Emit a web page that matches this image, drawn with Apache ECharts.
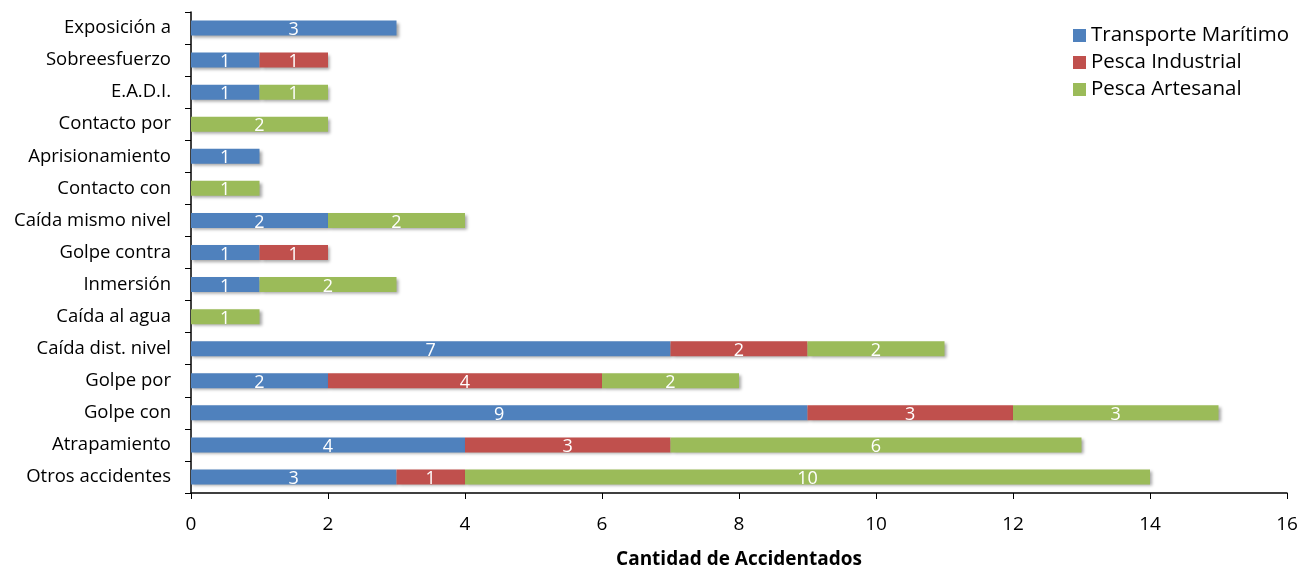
<!DOCTYPE html>
<html><head><meta charset="utf-8">
<script src="https://cdn.jsdelivr.net/npm/echarts@6/dist/echarts.min.js"></script>
<style>html,body{margin:0;padding:0;background:#fff}#c{width:1300px;height:571px}</style>
</head><body><div id="c"></div>
<script>
const categories = ["Otros accidentes","Atrapamiento","Golpe con","Golpe por","Caída dist. nivel","Caída al agua","Inmersión","Golpe contra","Caída mismo nivel","Contacto con","Aprisionamiento","Contacto por","E.A.D.I.","Sobreesfuerzo","Exposición a"];
const transporteMaritimo = [3,4,9,2,7,0,1,1,2,0,1,0,1,1,3];
const pescaIndustrial    = [1,3,3,4,2,0,0,1,0,0,0,0,0,1,0];
const pescaArtesanal     = [10,6,3,2,2,1,2,0,2,1,0,2,1,0,0];
const seriesNames = ["Transporte Marítimo","Pesca Industrial","Pesca Artesanal"];
const colors = ["#4F81BD","#C0504D","#9BBB59"];
const font = "'Open Sans', sans-serif";

const chart = echarts.init(document.getElementById('c'));
const mk = (name, data, color) => ({
  name, type: 'bar', stack: 'total', data, barWidth: 15,
  itemStyle: { color, shadowColor: 'rgba(0,0,0,0.35)', shadowBlur: 3, shadowOffsetX: 2, shadowOffsetY: 2 },
  label: { show: true, position: 'inside', color: '#fff', fontSize: 18, fontFamily: font, offset: [0, 2],
    formatter: p => p.value ? String(p.value) : '' }
});
chart.setOption({
  animation: false,
  grid: { left: 191, right: 13, top: 12, bottom: 78, containLabel: false, outerBoundsMode: 'none' },
  legend: {
    orient: 'vertical', left: 1068, top: 20, itemGap: 6, itemWidth: 13, itemHeight: 13,
    icon: 'rect', textStyle: { fontSize: 20.5, fontFamily: font, color: '#000' },
    data: seriesNames
  },
  xAxis: {
    type: 'value', min: 0, max: 16, interval: 2,
    name: 'Cantidad de Accidentados', nameLocation: 'middle', nameGap: 57,
    nameTextStyle: { fontSize: 19, fontWeight: 'bold', fontFamily: font, color: '#000' },
    axisLine: { show: true, lineStyle: { color: '#000', width: 1.5 } },
    axisTick: { show: true, length: 6, lineStyle: { color: '#000' } },
    axisLabel: { fontSize: 19, fontFamily: font, color: '#000', margin: 22 },
    splitLine: { show: false }
  },
  yAxis: {
    type: 'category', data: categories,
    axisLine: { show: true, lineStyle: { color: '#000', width: 1.5 } },
    axisTick: { show: true, length: 6, lineStyle: { color: '#000' } },
    axisLabel: { fontSize: 18.5, fontFamily: font, color: '#000', margin: 20 }
  },
  series: [
    mk(seriesNames[0], transporteMaritimo, colors[0]),
    mk(seriesNames[1], pescaIndustrial, colors[1]),
    mk(seriesNames[2], pescaArtesanal, colors[2])
  ]
});
</script></body></html>
